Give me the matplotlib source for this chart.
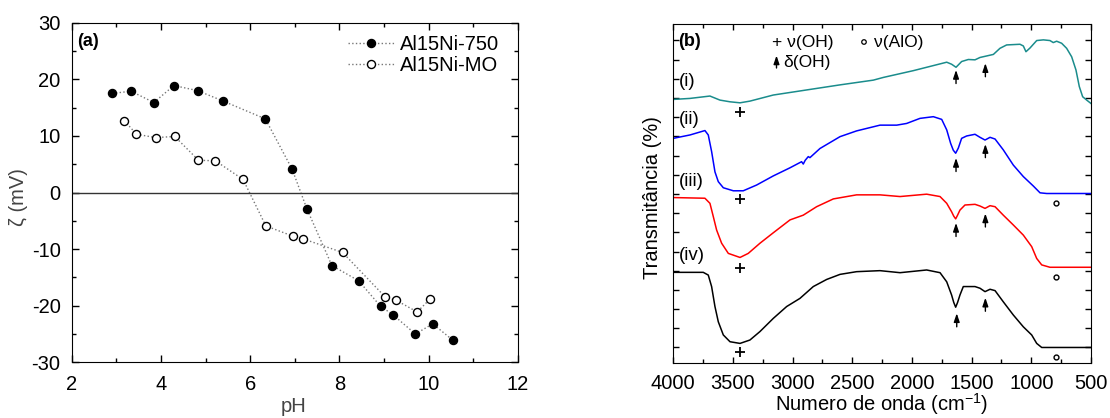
import numpy as np
import matplotlib
matplotlib.use("Agg")
import matplotlib.pyplot as plt
from matplotlib.ticker import MultipleLocator, FixedLocator
from matplotlib.patches import Ellipse

plt.rcParams['font.family'] = ['Liberation Sans', 'DejaVu Sans']
plt.rcParams['axes.unicode_minus'] = False
plt.rcParams['mathtext.default'] = 'regular'

# ---------------- Panel (a): zeta potential ----------------
ph_750 = [2.91, 3.33, 3.84, 4.29, 4.82, 5.38, 6.34, 6.94, 7.27, 7.83, 8.43, 8.92, 9.20, 9.70, 10.09, 10.54]
zeta_750 = [17.5, 17.9, 15.9, 18.9, 18.0, 16.2, 13.0, 4.1, -2.9, -12.9, -15.6, -20.1, -21.6, -25.0, -23.2, -26.1]
ph_mo = [3.18, 3.45, 3.88, 4.31, 4.84, 5.22, 5.84, 6.35, 6.95, 7.19, 8.07, 9.03, 9.26, 9.74, 10.02]
zeta_mo = [12.7, 10.3, 9.7, 9.9, 5.7, 5.6, 2.3, -5.9, -7.7, -8.2, -10.6, -18.5, -19.0, -21.1, -18.9]
labels_a = ['Al15Ni-750', 'Al15Ni-MO']

# ---------------- Panel (b): FTIR spectra (offset, arbitrary units) ----------------
wn_i = [4000, 3860, 3693, 3609, 3525, 3441, 3358, 3162, 2883, 2603, 2324, 2240, 1989, 1709, 1668, 1631,
        1584, 1528, 1472, 1430, 1380, 1318, 1263, 1207, 1095, 1067, 1045, 1011, 955, 899, 844, 816, 788,
        746, 704, 662, 626, 598, 570, 536, 500]
t_i = [77.8, 78.1, 78.8, 77.6, 77.1, 76.8, 77.3, 79.1, 80.6, 82.1, 83.5, 84.3, 86.3, 88.8, 88.2, 87.3,
       89.0, 89.6, 89.5, 90.2, 90.6, 91.1, 92.9, 93.9, 94.1, 93.6, 91.9, 93.0, 95.2, 95.4, 95.2, 94.6, 95.0,
       94.4, 92.9, 90.4, 86.5, 81.6, 78.6, 77.6, 76.6]

wn_ii = [4000, 3860, 3735, 3707, 3679, 3651, 3623, 3581, 3497, 3414, 3302, 3162, 3022, 2925, 2911, 2895,
         2869, 2855, 2771, 2603, 2464, 2268, 2128, 2045, 1933, 1821, 1751, 1709, 1676, 1654, 1634, 1612,
         1584, 1542, 1472, 1430, 1388, 1346, 1304, 1235, 1151, 1067, 983, 927, 871, 500]
t_ii = [66.3, 67.3, 68.6, 67.3, 62.4, 56.4, 53.5, 51.7, 50.8, 50.8, 52.5, 55.2, 57.6, 59.4, 58.7, 59.8,
        60.9, 60.6, 63.3, 66.8, 68.5, 70.2, 70.2, 70.7, 72.2, 72.7, 71.9, 68.8, 64.8, 62.8, 61.9, 63.4,
        66.3, 67.0, 67.5, 66.6, 65.8, 66.6, 66.1, 62.9, 58.4, 55.0, 52.2, 50.2, 50.0, 50.0]

wn_iii = [4000, 3735, 3693, 3665, 3637, 3595, 3539, 3441, 3372, 3274, 3162, 3022, 2911, 2799, 2659, 2464,
          2268, 2100, 1877, 1765, 1709, 1668, 1650, 1634, 1618, 1598, 1556, 1472, 1430, 1388, 1346, 1304,
          1235, 1151, 1067, 997, 955, 913, 844, 500]
t_iii = [48.8, 48.6, 47.1, 43.2, 39.2, 35.3, 32.3, 31.1, 32.3, 35.3, 38.4, 42.2, 43.6, 46.1, 48.4, 49.6,
         49.6, 49.1, 49.8, 49.1, 47.1, 44.6, 43.3, 42.5, 43.6, 45.1, 46.6, 46.8, 46.3, 45.6, 46.4, 46.1,
         43.6, 40.7, 37.7, 34.3, 30.8, 28.9, 28.2, 28.2]

wn_iv = [4000, 3749, 3707, 3679, 3651, 3623, 3581, 3525, 3441, 3358, 3274, 3162, 3050, 2939, 2827, 2715,
         2603, 2464, 2268, 2100, 1877, 1765, 1709, 1668, 1650, 1634, 1618, 1598, 1570, 1472, 1430, 1388,
         1346, 1304, 1235, 1151, 1067, 997, 955, 913, 500]
t_iv = [26.7, 26.7, 25.9, 22.5, 16.6, 12.1, 8.2, 6.2, 5.7, 6.7, 9.2, 13.1, 16.6, 19.0, 22.5, 24.6,
        26.1, 26.9, 27.2, 26.6, 27.4, 26.6, 23.9, 20.0, 17.8, 16.4, 17.8, 20.0, 22.5, 22.5, 22.0, 21.0,
        21.7, 21.3, 18.0, 14.1, 10.6, 8.2, 5.7, 4.5, 4.5]

curve_labels = ['(i)', '(ii)', '(iii)', '(iv)']
curve_colors = ['#1a8c8c', '#0000ff', '#ff0000', '#000000']

# annotation marks (band assignments)
plus_wn = 3441
plus_y = [74.0, 48.4, 27.9, 3.1]
arrow_wn_a = [1631, 1631, 1631, 1625]
arrow_y_a = [84.5, 58.5, 39.3, 12.6]
arrow_wn_b = 1385
arrow_y_b = [86.5, 62.6, 42.1, 17.2]
circ_wn = 796
circ_y = [47.3, 25.4, 1.8]

W, H = 1110, 418
fig = plt.figure(figsize=(W / 100, H / 100), dpi=100)


def fx(x):
    return x / W


def fy(y):
    return 1 - y / H


FS = 14.5
ARROW = dict(arrowstyle='-|>,head_length=0.5,head_width=0.17', color='black', lw=1.0,
             shrinkA=0, shrinkB=0)

# ---- axes (a)
axa = fig.add_axes([fx(71.7), fy(362.3), fx(518) - fx(71.7), fy(22.7) - fy(362.3)])
axa.plot(ph_750, zeta_750, linestyle=':', color='#777777', lw=1.0, marker='o', ms=5.8,
         mfc='black', mec='black', label=labels_a[0])
axa.plot(ph_mo, zeta_mo, linestyle=':', color='#777777', lw=1.0, marker='o', ms=5.8,
         mfc='white', mec='black', mew=1.0, label=labels_a[1])
axa.axhline(0, color='#333333', lw=1.0)
axa.set_xlim(2, 12)
axa.set_ylim(-30, 30)
axa.xaxis.set_major_locator(MultipleLocator(2))
axa.xaxis.set_minor_locator(MultipleLocator(1))
axa.yaxis.set_major_locator(MultipleLocator(10))
axa.yaxis.set_minor_locator(MultipleLocator(5))
axa.tick_params(which='both', direction='in', top=True, right=True, labelsize=FS, width=1.0)
axa.tick_params(which='major', length=5)
axa.tick_params(which='minor', length=3)
axa.tick_params(axis='x', pad=9)
axa.tick_params(axis='y', pad=8)
leg = axa.legend(loc='upper right', frameon=False, fontsize=FS, handlelength=2.3,
                 handletextpad=0.3, borderaxespad=0.2, labelspacing=0.1,
                 bbox_to_anchor=(0.985, 1.0))
fig.text(fx(77), fy(42), '(a)', fontsize=13, fontweight='bold', va='center', ha='left')
fig.text(fx(18), fy(197), 'ζ (mV)', fontsize=FS, rotation=90, va='center', ha='center', color='#444444')
fig.text(fx(294), fy(406), 'pH', fontsize=FS, va='center', ha='center', color='#444444')

# ---- axes (b)
axb = fig.add_axes([fx(673.3), fy(362.7), fx(1091) - fx(673.3), fy(24.3) - fy(362.7)])
for wn, t, c in zip([wn_i, wn_ii, wn_iii, wn_iv], [t_i, t_ii, t_iii, t_iv], curve_colors):
    axb.plot(wn, t, color=c, lw=1.1, solid_joinstyle='round')
axb.set_xlim(4000, 500)
axb.set_ylim(0, 100)
axb.xaxis.set_major_locator(MultipleLocator(500))
axb.xaxis.set_minor_locator(MultipleLocator(250))
axb.yaxis.set_major_locator(FixedLocator(np.arange(4.5, 99, 5.67)))
axb.set_yticklabels([])
axb.tick_params(which='both', direction='in', top=True, right=True, labelsize=FS, width=1.0)
axb.tick_params(which='major', length=4)
axb.tick_params(which='minor', length=3)
axb.tick_params(axis='x', pad=8)

axb.plot([plus_wn] * len(plus_y), plus_y, linestyle='none', marker='+', ms=7, mew=1.3, color='black')
axb.plot([circ_wn] * len(circ_y), circ_y, linestyle='none', marker='o', ms=3.5, mfc='white',
         mec='black', mew=1.0)
for xa, ya in zip(arrow_wn_a, arrow_y_a):
    axb.annotate('', xy=(xa, ya + 2.0), xytext=(xa, ya - 2.0), arrowprops=ARROW)
for ya in arrow_y_b:
    axb.annotate('', xy=(arrow_wn_b, ya + 2.0), xytext=(arrow_wn_b, ya - 2.0), arrowprops=ARROW)

fig.text(fx(678), fy(42), '(b)', fontsize=13, fontweight='bold', va='center', ha='left')
fig.text(fx(772), fy(42), '+ ν(OH)', fontsize=12.5, va='center', ha='left')
fig.text(fx(783), fy(62), 'δ(OH)', fontsize=12.5, va='center', ha='left')
axb.annotate('', xy=(fx(776.5), fy(55.5)), xytext=(fx(776.5), fy(68)), xycoords='figure fraction',
             textcoords='figure fraction', arrowprops=ARROW)
fig.text(fx(874), fy(42), 'ν(AlO)', fontsize=12.5, va='center', ha='left')
fig.patches.append(Ellipse((fx(864), fy(42)), 4.5 / W, 4.5 / H, transform=fig.transFigure,
                           facecolor='white', edgecolor='black', lw=0.9))
for lab, yy in zip(curve_labels, [81, 119, 182, 256]):
    fig.text(fx(679), fy(yy), lab, fontsize=13.5, va='center', ha='left')

fig.text(fx(653), fy(198), 'Transmitância (%)', fontsize=FS, rotation=90, va='center', ha='center')
fig.text(fx(882), fy(417), 'Numero de onda (cm$^{-1}$)', fontsize=FS, va='bottom', ha='center')

fig.savefig('out.png', dpi=100)
